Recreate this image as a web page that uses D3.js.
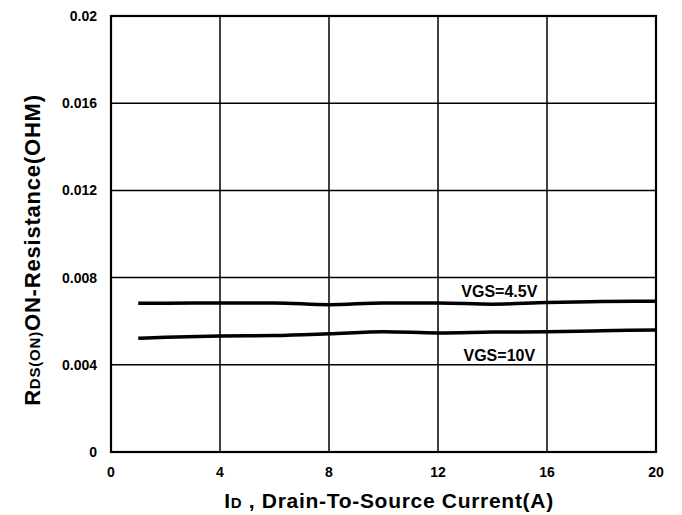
<!DOCTYPE html>
<html><head><meta charset="utf-8">
<script src="https://cdn.jsdelivr.net/npm/d3@7"></script>
<style>body{margin:0;background:#fff}svg{font-family:"Liberation Sans",Arial,sans-serif;font-weight:bold}</style>
</head><body>
<svg id="c" width="682" height="515"></svg>
<script>
const xTicks = [0,4,8,12,16,20];
const yTicks = [0,0.004,0.008,0.012,0.016,0.02];
const yTickLabels = ["0","0.004","0.008","0.012","0.016","0.02"];
const current = [1,2,4,6,8,10,12,14,16,18,20];
const vgs45 = [0.00682,0.00682,0.00684,0.00684,0.00676,0.00684,0.00684,0.00678,0.00686,0.00690,0.00692];
const vgs10 = [0.00522,0.00526,0.00532,0.00534,0.00542,0.00552,0.00546,0.00550,0.00552,0.00556,0.00560];
const seriesLabels = ["VGS=4.5V","VGS=10V"];

const svg = d3.select("#c");
const L=111,R=656,T=16,B=452;
const x = d3.scaleLinear().domain([0,20]).range([L,R]);
const y = d3.scaleLinear().domain([0,0.02]).range([B,T]);

// grid
svg.append("g").selectAll("line").data(xTicks).join("line")
  .attr("x1",d=>x(d)).attr("x2",d=>x(d)).attr("y1",T).attr("y2",B)
  .attr("stroke","#000").attr("stroke-width",1.5);
svg.append("g").selectAll("line").data(yTicks).join("line")
  .attr("y1",d=>y(d)).attr("y2",d=>y(d)).attr("x1",L).attr("x2",R)
  .attr("stroke","#000").attr("stroke-width",1.5);
svg.append("rect").attr("x",L).attr("y",T).attr("width",R-L).attr("height",B-T)
  .attr("fill","none").attr("stroke","#000").attr("stroke-width",2.2);

// tick labels
svg.append("g").selectAll("text").data(yTicks).join("text")
  .attr("x",L-14).attr("y",d=>y(d)+5).attr("text-anchor","end")
  .attr("font-size",14).text((d,i)=>yTickLabels[i]);
svg.append("g").selectAll("text").data(xTicks).join("text")
  .attr("x",d=>x(d)).attr("y",477).attr("text-anchor","middle")
  .attr("font-size",14).text(d=>d);

// curves
const line = d3.line().x((d,i)=>x(current[i])).y(d=>y(d)).curve(d3.curveMonotoneX);
[vgs45,vgs10].forEach(s=>{
  svg.append("path").attr("d",line(s)).attr("fill","none")
    .attr("stroke","#000").attr("stroke-width",3.5);
});

// series labels
svg.append("text").attr("x",x(14.25)).attr("y",y(0.00712)).attr("text-anchor","middle")
  .attr("font-size",16).text(seriesLabels[0]);
svg.append("text").attr("x",x(14.25)).attr("y",y(0.00419)).attr("text-anchor","middle")
  .attr("font-size",16).text(seriesLabels[1]);

// x title
const xt = svg.append("text").attr("x",389).attr("y",508).attr("text-anchor","middle")
  .attr("font-size",21).attr("letter-spacing",0.7);
xt.append("tspan").text("I");
xt.append("tspan").attr("font-size",15).text("D");
xt.append("tspan").text(" , Drain-To-Source Current(A)");

// y title
const yt = svg.append("text").attr("transform","translate(40,250) rotate(-90)")
  .attr("text-anchor","middle").attr("font-size",22).attr("letter-spacing",0.8);
yt.append("tspan").text("R");
yt.append("tspan").attr("font-size",15).text("DS(ON)");
yt.append("tspan").text("ON-Resistance(OHM)");
</script>
</body></html>
